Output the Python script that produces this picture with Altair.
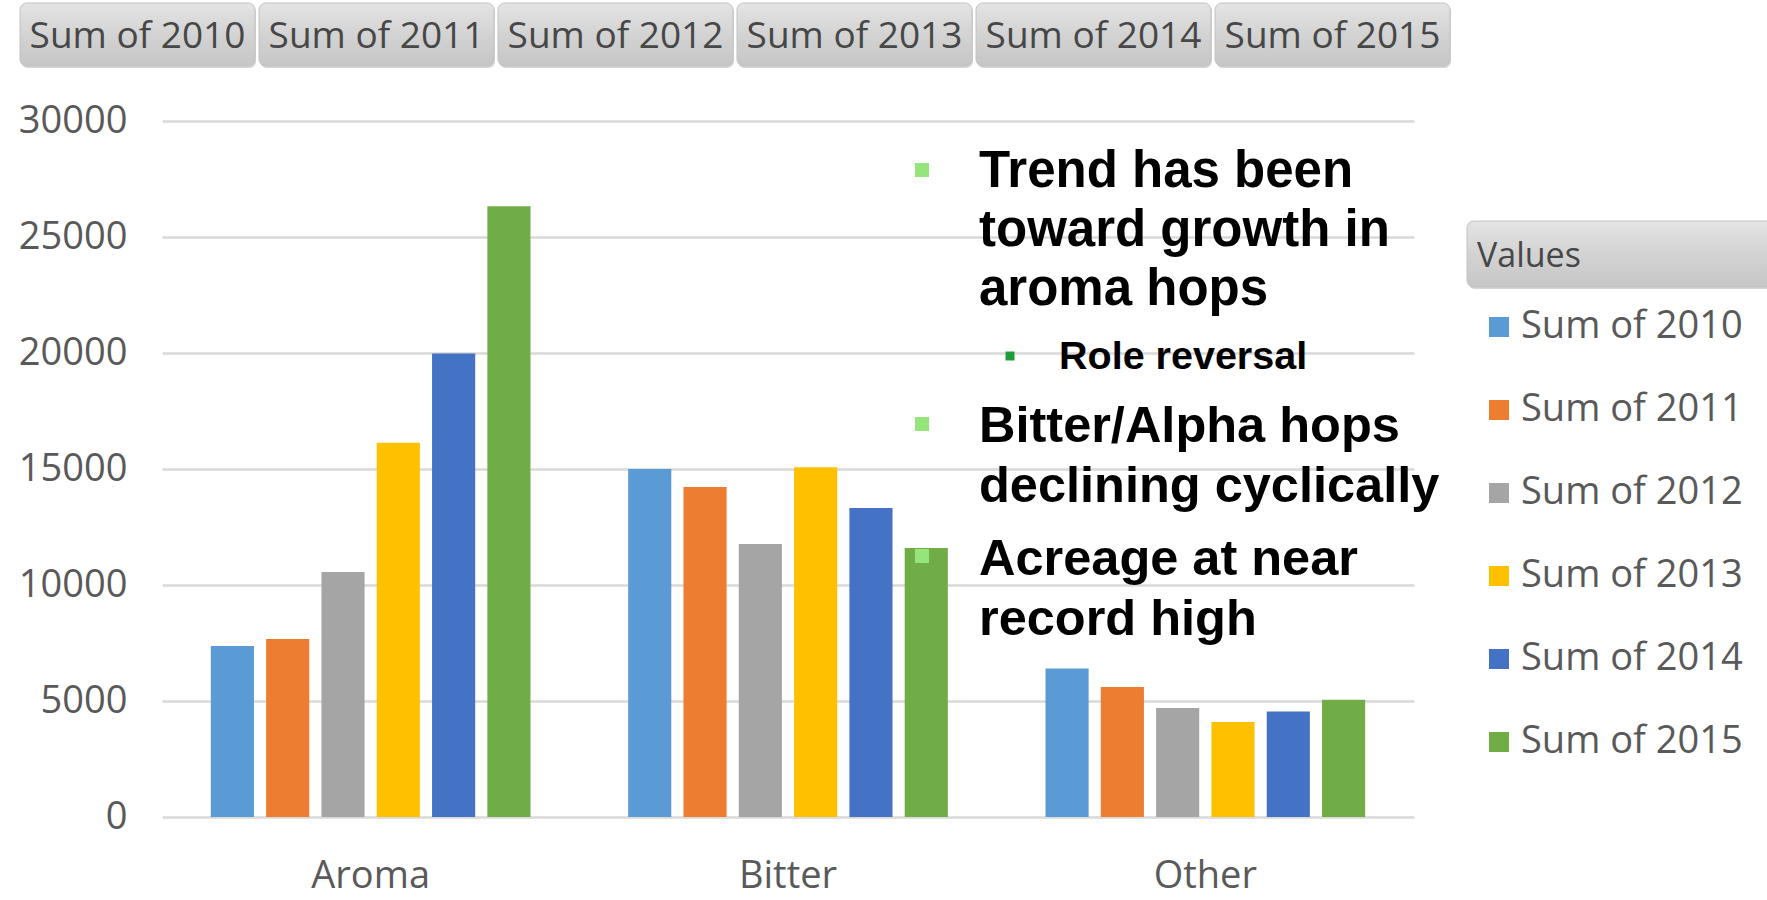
import altair as alt
import pandas as pd

# ---- data -------------------------------------------------------------
categories = ["Aroma", "Bitter", "Other"]
series = ["Sum of 2010", "Sum of 2011", "Sum of 2012",
          "Sum of 2013", "Sum of 2014", "Sum of 2015"]
aroma = [7370, 7670, 10560, 16130, 19980, 26330]
bitter = [15000, 14220, 11770, 15080, 13320, 11590]
other = [6400, 5600, 4700, 4100, 4550, 5050]
colors = ["#5B9BD5", "#ED7D31", "#A5A5A5", "#FFC000", "#4472C4", "#70AD47"]

notes_trend = ["Trend has been", "toward growth in", "aroma hops"]
note_sub = "Role reversal"
notes_bitter = ["Bitter/Alpha hops", "declining cyclically"]
notes_acreage = ["Acreage at near", "record high"]
legend_header = "Values"

rows = []
for cat, vals in zip(categories, [aroma, bitter, other]):
    for s, v in zip(series, vals):
        rows.append({"category": cat, "series": s, "acres": v})
df = pd.DataFrame(rows)

# ---- layout (pixels) --------------------------------------------------
W, H = 1252, 696
PAD_L, PAD_T = 162, 121
PAD_R, PAD_B = 1767 - PAD_L - W, 900 - PAD_T - H

AXIS_FONT = "Open Sans"
NOTE_FONT = "Liberation Sans"
GREY_TEXT = "#595959"

button_fill = alt.LinearGradient(
    gradient="linear",
    stops=[alt.GradientStop(color="#e4e4e4", offset=0),
           alt.GradientStop(color="#d3d3d3", offset=0.5),
           alt.GradientStop(color="#c6c6c6", offset=1)],
    x1=0, x2=0, y1=0, y2=1,
)


def px(x):
    return x - PAD_L


def py(y):
    return y - PAD_T


def button(label, x0, x1, y0, y1, text_x, text_y, size, align="center"):
    src = alt.Chart(pd.DataFrame({"label": [label]}))
    shadow = src.mark_rect(cornerRadius=7, color="#b9b9b9", opacity=0.6).encode(
        x=alt.value(px(x0) + 1), x2=alt.value(px(x1) + 1),
        y=alt.value(py(y0) + 2), y2=alt.value(py(y1) + 2),
    )
    face = src.mark_rect(cornerRadius=7, color=button_fill,
                         stroke="#c2c2c2", strokeWidth=1).encode(
        x=alt.value(px(x0)), x2=alt.value(px(x1)),
        y=alt.value(py(y0)), y2=alt.value(py(y1)),
    )
    text = src.mark_text(font=AXIS_FONT, fontSize=size, color="#474747",
                         align=align, baseline="middle").encode(
        x=alt.value(px(text_x)), y=alt.value(py(text_y)), text="label:N",
    )
    return [shadow, face, text]


def note_line(label, x, baseline_y, size):
    return alt.Chart(pd.DataFrame({"t": [label]})).mark_text(
        font=NOTE_FONT, fontSize=size, fontWeight="bold", color="#000000",
        align="left", baseline="alphabetic",
    ).encode(x=alt.value(px(x)), y=alt.value(py(baseline_y)), text="t:N")


def bullet(x, y, side, color):
    return alt.Chart(pd.DataFrame({"b": [0]})).mark_square(
        size=side * side, color=color, opacity=1,
    ).encode(x=alt.value(px(x)), y=alt.value(py(y)))


# ---- grouped bars -----------------------------------------------------
bars = alt.Chart(df).mark_bar().encode(
    x=alt.X("category:N", sort=categories,
            scale=alt.Scale(paddingInner=0.234, paddingOuter=0.117),
            axis=alt.Axis(title=None, labelAngle=0, labelFontSize=38,
                          labelColor=GREY_TEXT, labelFont=AXIS_FONT,
                          domain=False, ticks=False, labelPadding=40)),
    xOffset=alt.XOffset("series:N", sort=series,
                        scale=alt.Scale(paddingInner=0.22, paddingOuter=0)),
    y=alt.Y("acres:Q", scale=alt.Scale(domain=[0, 30000], nice=False),
            axis=alt.Axis(title=None, values=list(range(0, 30001, 5000)),
                          format="d", grid=True, gridColor="#d9d9d9",
                          gridWidth=2.5, domain=False, ticks=False,
                          labelFontSize=38, labelFont=AXIS_FONT,
                          labelColor=GREY_TEXT, labelPadding=35)),
    color=alt.Color("series:N", sort=series,
                    scale=alt.Scale(domain=series, range=colors),
                    legend=alt.Legend(title=None, orient="none",
                                      legendX=px(1480), legendY=py(308),
                                      symbolType="square", symbolSize=400,
                                      symbolStrokeWidth=0,
                                      labelFont=AXIS_FONT, labelFontSize=38,
                                      labelColor=GREY_TEXT, labelOffset=3,
                                      labelLimit=400, rowPadding=45)),
)

layers = [bars]

# field buttons along the top
BTN_X0, BTN_W, BTN_GAP = 20, 235, 4
for i, s in enumerate(series):
    x0 = BTN_X0 + i * (BTN_W + BTN_GAP)
    layers += button(s, x0, x0 + BTN_W, 3, 66, x0 + BTN_W / 2, 37, 37)

# legend header button
layers += button(legend_header, 1467, 1775, 221, 287, 1477, 257, 34,
                 align="left")

# annotation text
LIGHT_GREEN = "#96e47c"
layers.append(bullet(922, 170, 14, LIGHT_GREEN))
for line, base in zip(notes_trend, [187, 246, 305]):
    layers.append(note_line(line, 979, base, 51))
layers.append(bullet(1010, 356, 9, "#1f9d3a"))
layers.append(note_line(note_sub, 1059, 369, 39.5))
layers.append(bullet(922, 424, 14, LIGHT_GREEN))
for line, base in zip(notes_bitter, [442, 502]):
    layers.append(note_line(line, 979, base, 50.5))
layers.append(bullet(922, 556, 14, LIGHT_GREEN))
for line, base in zip(notes_acreage, [575, 635]):
    layers.append(note_line(line, 979, base, 50.5))

chart = alt.layer(*layers).properties(
    width=W, height=H,
    autosize=alt.AutoSizeParams(type="none"),
    padding={"left": PAD_L, "top": PAD_T, "right": PAD_R, "bottom": PAD_B},
    background="white",
).configure_view(stroke=None)

chart.save("out.html", embed_options={"renderer": "svg", "actions": False})
